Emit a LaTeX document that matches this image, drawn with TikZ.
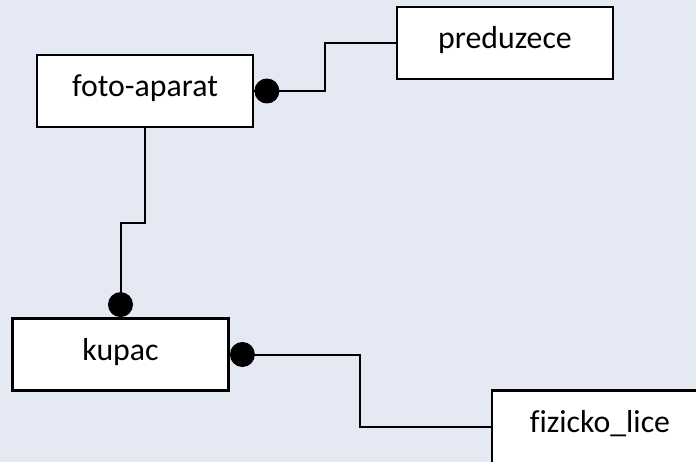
\documentclass[tikz,border=0pt]{standalone}
\usepackage{fontspec}
\setmainfont{Carlito}[Ligatures=NoCommon]
\usetikzlibrary{calc}
\definecolor{bgcol}{RGB}{229,233,243}
\begin{document}
\begin{tikzpicture}[x=1pt,y=-1pt,
  entity/.style={draw=black, line width=2.8pt, fill=white, rectangle,
    minimum width=216pt, minimum height=72pt, inner sep=0pt,
    text height=24pt, text depth=12pt,
    font=\fontsize{31.8}{38}\selectfont},
  conn/.style={draw=black, line width=2pt},
  dotmark/.style={fill=black, draw=none}]
\fill[bgcol] (0,0) rectangle (696,462);
\useasboundingbox (0,0) rectangle (696,462);
\node[entity] (foto) at (145,91) {foto-aparat};
\node[entity] (pred) at (505,43) {preduzece};
\node[entity] (kupac) at (120.5,354.5) {kupac};
\begin{scope}
\clip (0,0) rectangle (696,462);
\node[entity, minimum height=80pt, text height=20pt, text depth=16pt] (fiz) at (600,430.5) {fizicko\_lice};
\end{scope}
\coordinate (fizin) at ($(fiz.west)+(0,-4)$);
\coordinate (m1) at ($(foto.east)!0.5!(pred.west)$);
\coordinate (m2) at ($(foto.south)!0.5!(kupac.north)$);
\coordinate (m3) at ($(kupac.east)!0.5!(fizin)$);
\draw[conn] (foto.east) -- (foto.east -| m1) -- (m1 |- pred.west) -- (pred.west);
\draw[conn] (foto.south) -- (foto.south |- m2) -- (m2 -| kupac.north) -- (kupac.north);
\draw[conn] (kupac.east) -- (kupac.east -| m3) -- (m3 |- fizin) -- (fizin);
\fill[dotmark] ($(foto.east)+(12.5,0)$) circle (12.5);
\fill[dotmark] ($(kupac.north)+(0,-12.5)$) circle (12.5);
\fill[dotmark] ($(kupac.east)+(12.5,0)$) circle (12.5);
\end{tikzpicture}
\end{document}
